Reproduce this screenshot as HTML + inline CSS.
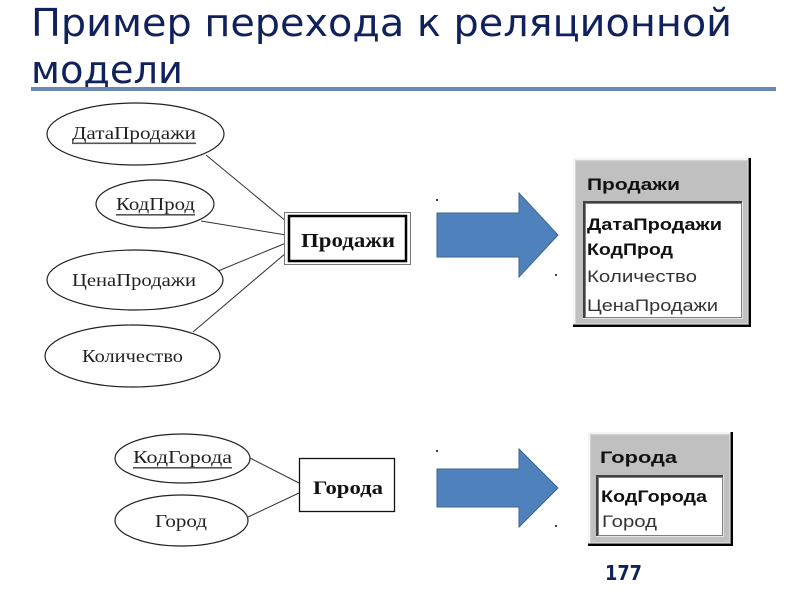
<!DOCTYPE html>
<html>
<head>
<meta charset="utf-8">
<style>
html,body{margin:0;padding:0;background:#fff;}
svg{display:block;}
</style>
</head>
<body>
<svg width="800" height="600" viewBox="0 0 800 600" xmlns="http://www.w3.org/2000/svg">
  <rect x="0" y="0" width="800" height="600" fill="#ffffff"/>

  <!-- Title -->
  <text x="31" y="36" font-family="DejaVu Sans, sans-serif" font-size="38" fill="#10215e" textLength="701" lengthAdjust="spacingAndGlyphs">Пример перехода к реляционной</text>
  <text x="31" y="83" font-family="DejaVu Sans, sans-serif" font-size="38" fill="#10215e" textLength="152" lengthAdjust="spacingAndGlyphs">модели</text>
  <rect x="31" y="87" width="745" height="4" fill="#6a86b3"/>

  <!-- Connectors top -->
  <g stroke="#333" stroke-width="1" fill="none">
    <line x1="206" y1="155" x2="287" y2="222"/>
    <line x1="201" y1="221" x2="286" y2="235"/>
    <line x1="218" y1="271" x2="286" y2="243"/>
    <line x1="193" y1="332" x2="286" y2="253"/>
    <line x1="250" y1="458" x2="299" y2="483"/>
    <line x1="248" y1="517" x2="299" y2="493"/>
  </g>

  <!-- Ellipses top -->
  <g stroke="#222" stroke-width="1.2" fill="#fff">
    <ellipse cx="135.5" cy="134" rx="88.5" ry="31"/>
    <ellipse cx="155" cy="204" rx="59" ry="24"/>
    <ellipse cx="135" cy="280" rx="88" ry="30"/>
    <ellipse cx="132.5" cy="356" rx="87.5" ry="31"/>
    <ellipse cx="182.5" cy="458.5" rx="67.5" ry="24.5"/>
    <ellipse cx="181.5" cy="520.5" rx="66.5" ry="25.5"/>
  </g>

  <g font-family="Liberation Serif, serif" font-size="18" fill="#222">
    <text x="72" y="139" textLength="124" lengthAdjust="spacingAndGlyphs">ДатаПродажи</text>
    <text x="116" y="210" textLength="79" lengthAdjust="spacingAndGlyphs">КодПрод</text>
    <text x="72" y="286" textLength="124" lengthAdjust="spacingAndGlyphs">ЦенаПродажи</text>
    <text x="82" y="362" textLength="101" lengthAdjust="spacingAndGlyphs">Количество</text>
    <text x="133" y="463" textLength="99" lengthAdjust="spacingAndGlyphs">КодГорода</text>
    <text x="155" y="527" textLength="52" lengthAdjust="spacingAndGlyphs">Город</text>
  </g>
  <!-- underlines -->
  <g fill="#555">
    <rect x="72" y="142.5" width="124" height="1.6"/>
    <rect x="116" y="214" width="79" height="1.6"/>
    <rect x="133" y="467" width="99" height="1.6"/>
  </g>

  <!-- Продажи entity box -->
  <rect x="284.5" y="212.5" width="126" height="52" fill="#fff" stroke="#777" stroke-width="1"/>
  <rect x="289" y="216" width="117" height="45" fill="#fff" stroke="#000" stroke-width="2.5"/>
  <text x="301" y="247" font-family="Liberation Serif, serif" font-weight="bold" font-size="20" fill="#111" textLength="94" lengthAdjust="spacingAndGlyphs">Продажи</text>

  <!-- Города entity box -->
  <rect x="299.5" y="458.5" width="95" height="53" fill="#fff" stroke="#111" stroke-width="1.3"/>
  <text x="313" y="494" font-family="Liberation Serif, serif" font-weight="bold" font-size="19" fill="#111" textLength="70" lengthAdjust="spacingAndGlyphs">Города</text>

  <!-- Arrows -->
  <polygon points="437,213 519,213 519,193 558,235 519,277 519,257 437,257" fill="#4f81bd" stroke="#3b6594" stroke-width="1"/>
  <polygon points="437,469 519,469 519,449 558,488 519,527 519,507 437,507" fill="#4f81bd" stroke="#3b6594" stroke-width="1"/>
  <g fill="#444">
    <rect x="436" y="199" width="2" height="2"/>
    <rect x="555" y="274" width="2" height="2"/>
    <rect x="436" y="450" width="2" height="2"/>
    <rect x="555" y="525" width="2" height="2"/>
  </g>

  <!-- Table Продажи -->
  <rect x="573" y="158" width="178" height="169" fill="#000"/>
  <rect x="573" y="158" width="176" height="167" fill="#808080"/>
  <rect x="573" y="158" width="175" height="166" fill="#f4f4f4"/>
  <rect x="575" y="160" width="173" height="164" fill="#d4d4d4"/>
  <rect x="576" y="161" width="171" height="162" fill="#c0c0c0"/>
  <text x="587" y="190" font-family="Liberation Sans, sans-serif" font-weight="bold" font-size="17" fill="#111" textLength="93" lengthAdjust="spacingAndGlyphs">Продажи</text>
  <rect x="583" y="201" width="160" height="118" fill="#e4e4e4"/>
  <rect x="583" y="201" width="159" height="117" fill="#404040"/>
  <rect x="585" y="203" width="157" height="115" fill="#808080"/>
  <rect x="586" y="204" width="155" height="113" fill="#fff"/>
  <g font-family="Liberation Sans, sans-serif" font-size="17" fill="#111">
    <text x="587" y="230" font-weight="bold" textLength="135" lengthAdjust="spacingAndGlyphs">ДатаПродажи</text>
    <text x="587" y="255" font-weight="bold" textLength="86" lengthAdjust="spacingAndGlyphs">КодПрод</text>
    <text x="587" y="282" fill="#333" textLength="110" lengthAdjust="spacingAndGlyphs">Количество</text>
    <text x="587" y="311" fill="#333" textLength="131" lengthAdjust="spacingAndGlyphs">ЦенаПродажи</text>
  </g>

  <!-- Table Города -->
  <rect x="588" y="432" width="145" height="114" fill="#000"/>
  <rect x="588" y="432" width="143" height="112" fill="#808080"/>
  <rect x="588" y="432" width="142" height="111" fill="#f4f4f4"/>
  <rect x="590" y="434" width="140" height="109" fill="#d4d4d4"/>
  <rect x="591" y="435" width="138" height="107" fill="#c0c0c0"/>
  <text x="600" y="463" font-family="Liberation Sans, sans-serif" font-weight="bold" font-size="17" fill="#111" textLength="77" lengthAdjust="spacingAndGlyphs">Города</text>
  <rect x="596" y="475" width="128" height="62" fill="#e4e4e4"/>
  <rect x="596" y="475" width="127" height="61" fill="#404040"/>
  <rect x="598" y="477" width="125" height="59" fill="#808080"/>
  <rect x="599" y="478" width="123" height="57" fill="#fff"/>
  <g font-family="Liberation Sans, sans-serif" font-size="17" fill="#111">
    <text x="601" y="502" font-weight="bold" textLength="106" lengthAdjust="spacingAndGlyphs">КодГорода</text>
    <text x="602" y="527" fill="#333" textLength="55" lengthAdjust="spacingAndGlyphs">Город</text>
  </g>

  <!-- Page number -->
  <text x="605" y="580" font-family="DejaVu Sans, sans-serif" font-weight="bold" font-size="20" fill="#10215e" textLength="37" lengthAdjust="spacingAndGlyphs">177</text>
</svg>
</body>
</html>
